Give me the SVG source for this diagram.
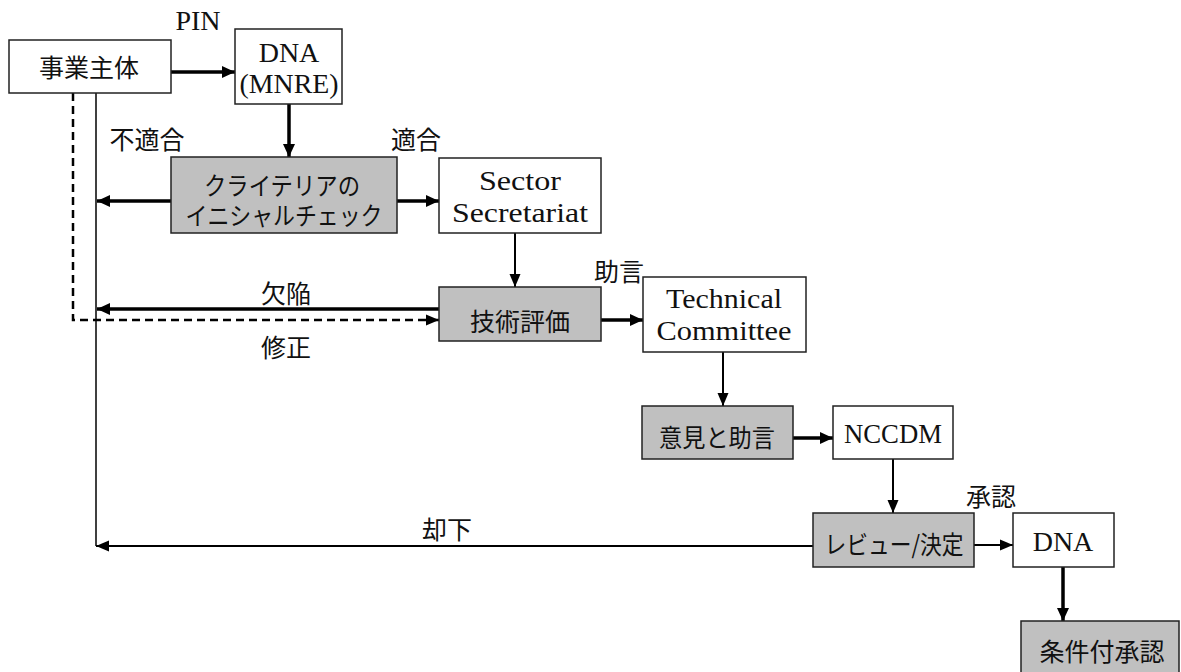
<svg xmlns="http://www.w3.org/2000/svg" width="1181" height="672" viewBox="0 0 1181 672">
<style>
.box{fill:#ffffff;stroke:#222;stroke-width:1.5}
.gray{fill:#c0c0c0;stroke:#222;stroke-width:1.5}
.jp{font-family:"Noto Sans CJK JP","Noto Sans",sans-serif;font-size:25px;fill:#111;text-anchor:middle;dominant-baseline:central}
.en{font-family:"Liberation Serif",serif;font-size:28px;fill:#111;text-anchor:middle}
.thick{stroke:#000;stroke-width:3.5;fill:none;marker-end:url(#ah)}
.thin{stroke:#000;stroke-width:2;fill:none;marker-end:url(#ahs)}
.dash{stroke:#000;stroke-width:2.5;fill:none;stroke-dasharray:8 5;marker-end:url(#ahs)}
</style>
<defs>
<marker id="ah" markerUnits="userSpaceOnUse" markerWidth="14" markerHeight="14" viewBox="0 0 14 14" refX="13" refY="7" orient="auto">
<path d="M0,1 L13,7 L0,13 Z" fill="#000"/>
</marker>
<marker id="ahs" markerUnits="userSpaceOnUse" markerWidth="14" markerHeight="14" viewBox="0 0 14 14" refX="13" refY="7" orient="auto">
<path d="M0,1.5 L13,7 L0,12.5 Z" fill="#000"/>
</marker>
</defs>

<g id="connectors">
<line x1="96" y1="93" x2="96" y2="546" stroke="#000" stroke-width="1.5"/>
<line class="thick" x1="171" y1="72" x2="235" y2="72"/>
<line class="thick" x1="289" y1="104" x2="289" y2="157"/>
<line class="thick" x1="171" y1="201" x2="97" y2="201"/>
<line class="thick" x1="397" y1="201" x2="439" y2="201"/>
<line class="thin" x1="515" y1="233" x2="515" y2="287"/>
<line class="thick" x1="439" y1="309" x2="97" y2="309"/>
<polyline class="dash" points="73,93 73,320 439,320"/>
<line class="thick" x1="601" y1="320" x2="643" y2="320"/>
<line class="thin" x1="723" y1="352" x2="723" y2="406"/>
<line class="thick" x1="793" y1="438" x2="833" y2="438"/>
<line class="thin" x1="893" y1="459" x2="893" y2="513"/>
<line class="thin" x1="974" y1="545" x2="1013" y2="545"/>
<line class="thin" x1="813" y1="546" x2="96" y2="546"/>
<line class="thick" x1="1063" y1="567" x2="1063" y2="621"/>
</g>

<g id="labels">
<text class="en" x="198" y="30">PIN</text>
<text class="jp" x="147" y="138">不適合</text>
<text class="jp" x="416" y="138">適合</text>
<text class="jp" x="286" y="292">欠陥</text>
<text class="jp" x="286" y="346">修正</text>
<text class="jp" x="619" y="270">助言</text>
<text class="jp" x="991" y="495">承認</text>
<text class="jp" x="447" y="528">却下</text>
</g>

<g id="node-jigyo">
<rect class="box" x="9" y="40" width="162" height="53"/>
<text class="jp" x="89" y="66">事業主体</text>
</g>
<g id="node-dna-mnre">
<rect class="box" x="235" y="29" width="107" height="75"/>
<text class="en"><tspan x="289" y="62">DNA</tspan><tspan x="289" y="93" textLength="99" lengthAdjust="spacingAndGlyphs">(MNRE)</tspan></text>
</g>
<g id="node-criteria">
<rect class="gray" x="171" y="157" width="226" height="76"/>
<text class="jp" font-size="22"><tspan x="282" y="184" textLength="156" lengthAdjust="spacingAndGlyphs">クライテリアの</tspan><tspan x="284" y="214" textLength="197" lengthAdjust="spacingAndGlyphs">イニシャルチェック</tspan></text>
</g>
<g id="node-sector">
<rect class="box" x="439" y="158" width="162" height="75"/>
<text class="en"><tspan x="520" y="190" textLength="82" lengthAdjust="spacingAndGlyphs">Sector</tspan><tspan x="520" y="222" textLength="136" lengthAdjust="spacingAndGlyphs">Secretariat</tspan></text>
</g>
<g id="node-gijutsu">
<rect class="gray" x="439" y="287" width="162" height="54"/>
<text class="jp" x="520" y="320">技術評価</text>
</g>
<g id="node-technical">
<rect class="box" x="643" y="277" width="163" height="75"/>
<text class="en"><tspan x="724" y="308" textLength="116" lengthAdjust="spacingAndGlyphs">Technical</tspan><tspan x="724" y="340" textLength="135" lengthAdjust="spacingAndGlyphs">Committee</tspan></text>
</g>
<g id="node-iken">
<rect class="gray" x="642" y="406" width="151" height="53"/>
<text class="jp" x="717" y="436" textLength="116" lengthAdjust="spacingAndGlyphs">意見と助言</text>
</g>
<g id="node-nccdm">
<rect class="box" x="833" y="406" width="120" height="53"/>
<text class="en" x="893" y="443" textLength="98" lengthAdjust="spacingAndGlyphs">NCCDM</text>
</g>
<g id="node-review">
<rect class="gray" x="813" y="513" width="161" height="54"/>
<text class="jp" x="894" y="543" textLength="139" lengthAdjust="spacingAndGlyphs">レビュー/決定</text>
</g>
<g id="node-dna">
<rect class="box" x="1013" y="513" width="101" height="54"/>
<text class="en" x="1063" y="551">DNA</text>
</g>
<g id="node-joken">
<rect class="gray" x="1021" y="621" width="158" height="55"/>
<text class="jp" x="1102" y="650">条件付承認</text>
</g>
</svg>
